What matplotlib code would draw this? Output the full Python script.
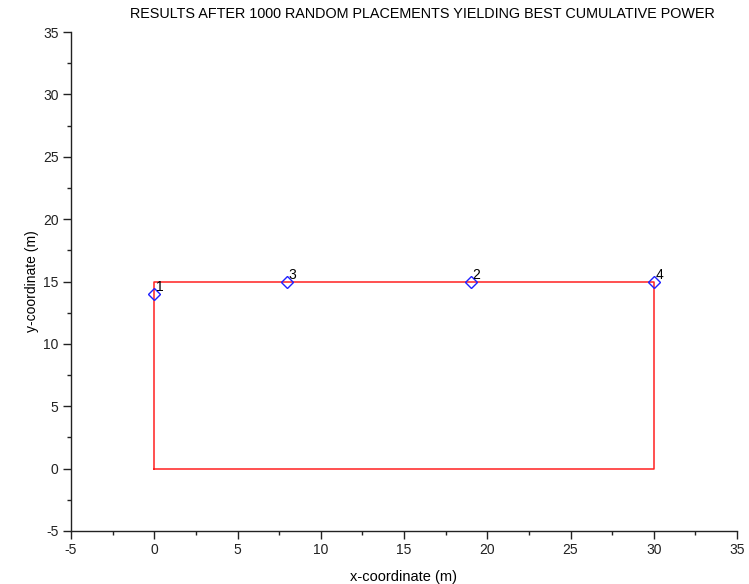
import matplotlib
matplotlib.use("Agg")
import matplotlib.pyplot as plt
from matplotlib.ticker import MultipleLocator

# Data
rect_x = [0, 30, 30, 0, 0]
rect_y = [0, 0, 15, 15, 0]
pt_x = [0, 19, 8, 30]
pt_y = [14, 15, 15, 15]
pt_labels = ["1", "2", "3", "4"]

title = "RESULTS AFTER 1000 RANDOM PLACEMENTS YIELDING BEST CUMULATIVE POWER"

plt.rcParams['font.family'] = ['Liberation Sans', 'DejaVu Sans']
plt.rcParams['axes.unicode_minus'] = False

fig = plt.figure(figsize=(7.49, 5.84), dpi=100)
ax = fig.add_axes([71/749, 53/584, (737-71)/749, (531-32)/584])

ax.plot(rect_x, rect_y, color='#ff2020', lw=1.1)
ax.plot(pt_x, pt_y, linestyle='none', marker='D', markersize=6,
        markerfacecolor='none', markeredgecolor='#2020ff', markeredgewidth=1.0)
for x, y, t in zip(pt_x, pt_y, pt_labels):
    ax.annotate(t, (x, y), xytext=(1, 2), textcoords='offset points',
                fontsize=10, color='black')

ax.set_xlim(-5, 35)
ax.set_ylim(-5, 35)
ax.xaxis.set_major_locator(MultipleLocator(5))
ax.yaxis.set_major_locator(MultipleLocator(5))
ax.xaxis.set_minor_locator(MultipleLocator(2.5))
ax.yaxis.set_minor_locator(MultipleLocator(2.5))
for s in ['top', 'right']:
    ax.spines[s].set_visible(False)
for s in ['left', 'bottom']:
    ax.spines[s].set_linewidth(1.0)
    ax.spines[s].set_color('#222222')
ax.tick_params(which='major', direction='out', length=5.5, width=1, labelsize=10,
               colors='#222222', pad=3.5)
ax.tick_params(which='minor', direction='out', length=3, width=1, colors='#222222')

ax.set_xlabel("x-coordinate (m)", fontsize=10.5, labelpad=9)
ax.set_ylabel("y-coordinate (m)", fontsize=10, labelpad=3)
ax.set_title(title, fontsize=10.4, pad=10, x=0.527)

fig.savefig("out.png", dpi=100)
